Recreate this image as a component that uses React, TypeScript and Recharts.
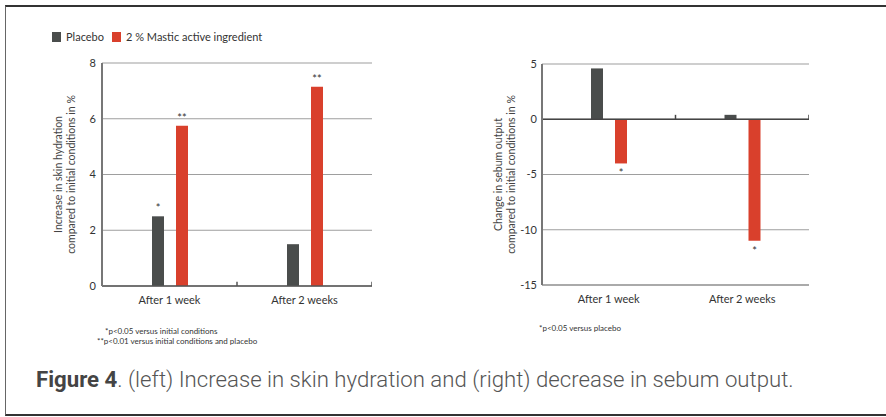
import React from "react";
import { BarChart, Bar, XAxis, YAxis, CartesianGrid, LabelList, ReferenceLine } from "recharts";

const categories = ["After 1 week", "After 2 weeks"];
const seriesNames = ["Placebo", "2 % Mastic active ingredient"];

const hydrationPlacebo = [2.5, 1.5];
const hydrationMastic = [5.75, 7.15];
const hydrationPlaceboSig = ["*", ""];
const hydrationMasticSig = ["**", "**"];
const hydrationTicks = [0, 2, 4, 6, 8];

const sebumPlacebo = [4.6, 0.4];
const sebumMastic = [-4.0, -11.0];
const sebumPlaceboSig = ["", ""];
const sebumMasticSig = ["*", "*"];
const sebumTicks = [-15, -10, -5, 0, 5];

const hydrationNotes = ["*p<0.05 versus initial conditions", "**p<0.01 versus initial conditions and placebo"];
const sebumNotes = ["*p<0.05 versus placebo"];

const PLACEBO = "#4a4d4c";
const MASTIC = "#d9402c";
const FONT = "Lato, 'Open Sans', sans-serif";

const hydrationData = categories.map((c, i) => ({
  cat: c,
  placebo: hydrationPlacebo[i],
  mastic: hydrationMastic[i],
  plSig: hydrationPlaceboSig[i],
  maSig: hydrationMasticSig[i],
}));

const sebumData = categories.map((c, i) => ({
  cat: c,
  placebo: sebumPlacebo[i],
  mastic: sebumMastic[i],
  plSig: sebumPlaceboSig[i],
  maSig: sebumMasticSig[i],
}));

function SigLabel(props: any) {
  const { x, y, width, height, value, index, data, dataKey } = props;
  if (!value) return null;
  const v = data[index][dataKey];
  const top = Math.min(y, y + height);
  const bottom = Math.max(y, y + height);
  const cx = x + width / 2;
  const ty = v >= 0 ? top - 4 : bottom + 14;
  return (
    <text x={cx} y={ty} textAnchor="middle" fontSize={11} fill="#333" fontFamily={FONT}>
      {value}
    </text>
  );
}

function AxisTitle({ viewBox, lines, dx1, dx2 }: any) {
  const { x, y, height } = viewBox;
  const cy = y + height / 2;
  return (
    <g fontFamily={FONT} fontSize={10.5} fill="#444">
      {[dx1, dx2].map((dx: number, i: number) => (
        <text
          key={i}
          x={x + dx}
          y={cy}
          textAnchor="middle"
          dominantBaseline="central"
          transform={`rotate(-90, ${x + dx}, ${cy})`}
        >
          {lines[i]}
        </text>
      ))}
    </g>
  );
}

const tickStyle = { fontSize: 11, fill: "#333", fontFamily: FONT };

export default function App() {
  return (
    <div
      style={{
        position: "absolute",
        left: 0,
        top: 0,
        width: 886,
        height: 417,
        background: "#fff",
        overflow: "hidden",
        fontFamily: FONT,
      }}
    >
      <div
        style={{
          position: "absolute",
          left: 5,
          top: 5,
          width: 900,
          height: 407,
          borderTop: "2px solid #333",
          borderLeft: "1px solid #666",
          borderBottom: "2px solid #333",
        }}
      />

      {/* legend */}
      <div style={{ position: "absolute", left: 52, top: 30, display: "flex", alignItems: "center", fontSize: 11, color: "#333" }}>
        <span style={{ width: 9, height: 10, background: PLACEBO, display: "inline-block", marginRight: 5 }} />
        <span style={{ marginRight: 8 }}>{seriesNames[0]}</span>
        <span style={{ width: 9, height: 10, background: MASTIC, display: "inline-block", marginRight: 5 }} />
        <span>{seriesNames[1]}</span>
      </div>

      {/* left chart */}
      <div style={{ position: "absolute", left: 40, top: 0 }}>
        <BarChart
          width={332}
          height={316}
          data={hydrationData}
          margin={{ top: 63, right: 0, bottom: 0, left: 0 }}
          barSize={12}
          barGap={12}
        >
          <CartesianGrid horizontal vertical={false} stroke="#9e9e9e" strokeWidth={1.2} />
          <XAxis
            dataKey="cat"
            axisLine={{ stroke: "#555", strokeWidth: 1.5 }}
            tickLine={false}
            tickSize={0}
            tickMargin={10}
            height={30}
            tick={tickStyle}
          />
          <YAxis
            domain={[0, 8]}
            ticks={hydrationTicks}
            width={62}
            axisLine={{ stroke: "#777", strokeWidth: 2 }}
            tickLine={false}
            tickSize={0}
            tickMargin={6}
            tick={tickStyle}
            label={(p: any) => (
              <AxisTitle
                viewBox={p.viewBox}
                lines={["Increase in skin hydration", "compared to initial conditions in %"]}
                dx1={18}
                dx2={31}
              />
            )}
          />
          {categories.map((c) => (
            <ReferenceLine
              key={c}
              segment={[{ x: c, y: 0 }, { x: c, y: 0.15 }]}
              position="end"
              stroke="#555"
              strokeWidth={1.5}
            />
          ))}
          <Bar dataKey="placebo" fill={PLACEBO} isAnimationActive={false}>
            <LabelList dataKey="plSig" content={(p: any) => <SigLabel {...p} data={hydrationData} dataKey="placebo" />} />
          </Bar>
          <Bar dataKey="mastic" fill={MASTIC} isAnimationActive={false}>
            <LabelList dataKey="maSig" content={(p: any) => <SigLabel {...p} data={hydrationData} dataKey="mastic" />} />
          </Bar>
        </BarChart>
      </div>

      {/* right chart */}
      <div style={{ position: "absolute", left: 470, top: 0 }}>
        <BarChart
          width={339}
          height={315}
          data={sebumData}
          margin={{ top: 64, right: 0, bottom: 0, left: 0 }}
          barSize={12}
          barGap={12}
        >
          <CartesianGrid horizontal vertical={false} stroke="#9e9e9e" strokeWidth={1.2} />
          <XAxis
            dataKey="cat"
            axisLine={{ stroke: "#aaa", strokeWidth: 2 }}
            tickLine={false}
            tickSize={0}
            tickMargin={10}
            height={30}
            tick={tickStyle}
          />
          <YAxis
            domain={[-15, 5]}
            ticks={sebumTicks}
            width={72}
            axisLine={{ stroke: "#777", strokeWidth: 2 }}
            tickLine={false}
            tickSize={0}
            tickMargin={5}
            tick={tickStyle}
            label={(p: any) => (
              <AxisTitle
                viewBox={p.viewBox}
                lines={["Change in sebum output", "compared to initial conditions in %"]}
                dx1={28}
                dx2={41}
              />
            )}
          />
          <ReferenceLine y={0} stroke="#444" strokeWidth={1.5} />
          {categories.map((c) => (
            <ReferenceLine
              key={c}
              segment={[{ x: c, y: 0 }, { x: c, y: 0.4 }]}
              position="end"
              stroke="#444"
              strokeWidth={1.5}
            />
          ))}
          <Bar dataKey="placebo" fill={PLACEBO} isAnimationActive={false}>
            <LabelList dataKey="plSig" content={(p: any) => <SigLabel {...p} data={sebumData} dataKey="placebo" />} />
          </Bar>
          <Bar dataKey="mastic" fill={MASTIC} isAnimationActive={false}>
            <LabelList dataKey="maSig" content={(p: any) => <SigLabel {...p} data={sebumData} dataKey="mastic" />} />
          </Bar>
        </BarChart>
      </div>

      {/* footnotes */}
      <div style={{ position: "absolute", left: 97, top: 326, fontSize: 8, lineHeight: "10px", color: "#333" }}>
        <div style={{ paddingLeft: 8 }}>{hydrationNotes[0]}</div>
        <div>{hydrationNotes[1]}</div>
      </div>
      <div style={{ position: "absolute", left: 539, top: 323, fontSize: 8, lineHeight: "10px", color: "#333" }}>
        {sebumNotes[0]}
      </div>

      {/* caption */}
      <div
        style={{
          position: "absolute",
          left: 36,
          top: 366,
          fontFamily: "Roboto, sans-serif",
          fontSize: 22.2,
          fontWeight: 300,
          color: "#555",
          whiteSpace: "nowrap",
        }}
      >
        <span style={{ fontWeight: 700, color: "#444" }}>Figure 4</span>. (left) Increase in skin hydration and (right) decrease in sebum output.
      </div>
    </div>
  );
}
